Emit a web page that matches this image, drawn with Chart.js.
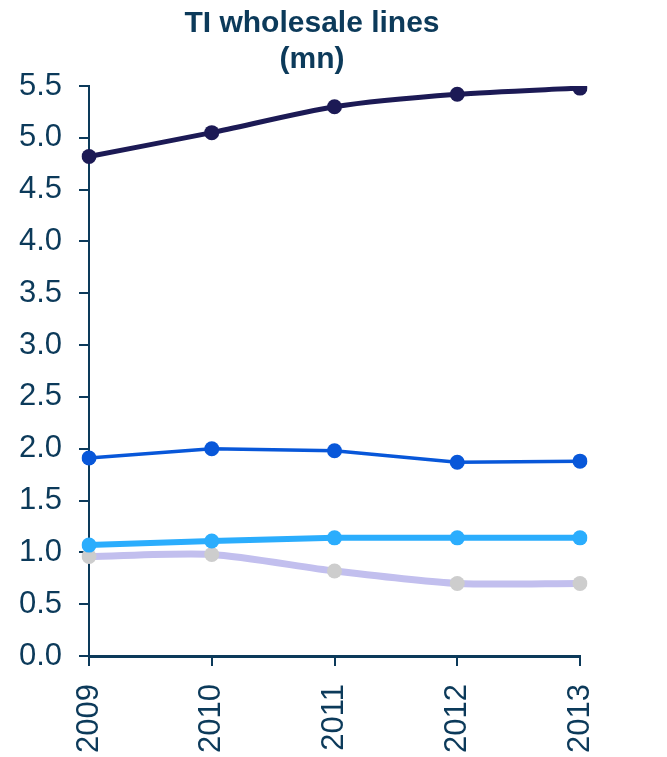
<!DOCTYPE html>
<html>
<head>
<meta charset="utf-8">
<script src="https://cdn.jsdelivr.net/npm/chart.js@4"></script>
<style>
    html, body { margin: 0; padding: 0; background: #fff; }
    #wrap { width: 667px; height: 757px; }
</style>
</head>
<body>
<div id="wrap"><canvas id="linesChart" width="667" height="757"></canvas></div>
<script>
// ── DATA ──────────────────────────────────────────
const years = ['2009', '2010', '2011', '2012', '2013'];
const seriesTop = [4.82, 5.05, 5.30, 5.42, 5.48];
const seriesBlue = [1.91, 2.00, 1.98, 1.87, 1.88];
const seriesLight = [1.07, 1.11, 1.14, 1.14, 1.14];
const seriesLavender = [0.96, 0.98, 0.82, 0.70, 0.70];
const titleLines = ['TI wholesale lines', '(mn)'];

const AXIS = '#0c3a5a';
const FONT = '"Liberation Sans", Arial, sans-serif';

function makeSet(data, line, point, width, tension, order) {
    return {
        data: data,
        borderColor: line,
        backgroundColor: point,
        pointBackgroundColor: point,
        pointBorderColor: point,
        pointBorderWidth: 0,
        pointRadius: 7.5,
        borderWidth: width,
        tension: tension,
        order: order
    };
}

// title sits a bit left of the plot centre in the original, so draw it ourselves
const titleDraw = {
    id: 'titleDraw',
    afterDraw(chart) {
        const ctx = chart.ctx;
        ctx.save();
        ctx.fillStyle = AXIS;
        ctx.font = 'bold 30px ' + FONT;
        ctx.textAlign = 'center';
        ctx.textBaseline = 'alphabetic';
        titleLines.forEach((t, i) => ctx.fillText(t, 312, 32 + i * 36));
        ctx.restore();
    }
};

new Chart(document.getElementById('linesChart'), {
    type: 'line',
    data: {
        labels: years,
        datasets: [
            makeSet(seriesTop, '#1c1a55', '#1c1a55', 5, 0.25, 0),
            makeSet(seriesBlue, '#0857d9', '#0857d9', 3.5, 0, 1),
            makeSet(seriesLight, '#2badfd', '#2badfd', 6, 0, 2),
            makeSet(seriesLavender, '#c2bfee', '#cdcdcd', 7, 0.25, 3)
        ]
    },
    plugins: [titleDraw],
    options: {
        responsive: false,
        animation: false,
        layout: { padding: { left: 0, right: 87, top: 86, bottom: 0 } },
        plugins: {
            legend: { display: false },
            tooltip: { enabled: false },
            title: { display: false }
        },
        scales: {
            x: {
                offset: false,
                grid: { display: true, drawOnChartArea: false, drawTicks: true, tickLength: 10, color: AXIS, lineWidth: 2 },
                border: { display: true, color: AXIS, width: 3 },
                ticks: {
                    color: AXIS,
                    font: { family: FONT, size: 31 },
                    minRotation: 90,
                    maxRotation: 90,
                    padding: 18
                },
                afterFit: (scale) => { scale.height = 101; }
            },
            y: {
                min: 0,
                max: 5.5,
                grid: { display: true, drawOnChartArea: false, drawTicks: true, tickLength: 10, color: AXIS, lineWidth: 2 },
                border: { display: true, color: AXIS, width: 2 },
                ticks: {
                    stepSize: 0.5,
                    color: AXIS,
                    font: { family: FONT, size: 31 },
                    padding: 17,
                    callback: (v) => v.toFixed(1)
                },
                afterFit: (scale) => { scale.width = 89; }
            }
        }
    }
});
</script>
</body>
</html>
